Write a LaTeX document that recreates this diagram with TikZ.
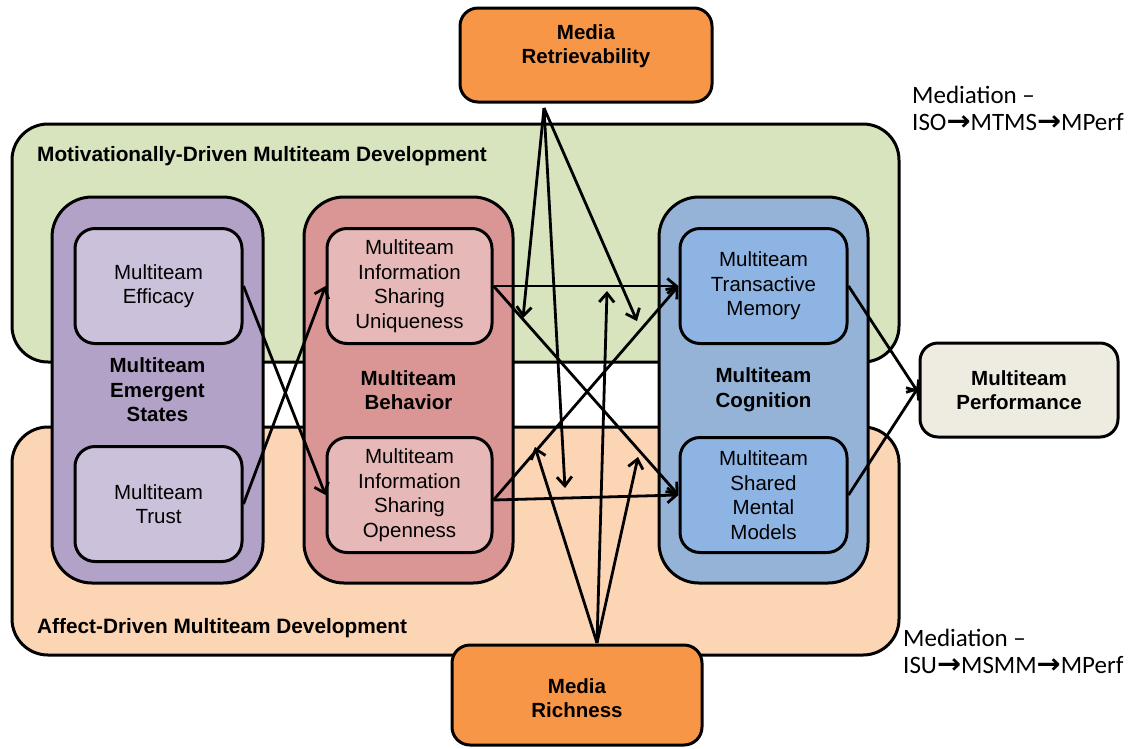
\documentclass[tikz,border=0pt]{standalone}
\usepackage{fontspec}
\usepackage{graphicx}
\setmainfont{Liberation Sans}
\newfontfamily\calib{Carlito}
\newfontfamily\djv{DejaVu Sans}
\usetikzlibrary{arrows.meta}
\definecolor{grn}{HTML}{D7E4BD}
\definecolor{pch}{HTML}{FCD5B5}
\definecolor{purO}{HTML}{B3A2C7}
\definecolor{purI}{HTML}{CCC1DA}
\definecolor{redO}{HTML}{D99694}
\definecolor{redI}{HTML}{E6B9B8}
\definecolor{bluO}{HTML}{95B3D7}
\definecolor{bluI}{HTML}{8EB4E3}
\definecolor{org}{HTML}{F79646}
\definecolor{perf}{HTML}{EEECE1}
\newcommand{\ra}{\scalebox{1.15}[1.1]{\djv\bfseries\char"2192}}
\begin{document}
\begin{tikzpicture}[x=1pt,y=-1pt,
  box/.style={draw=black,line width=3pt,inner sep=0pt,align=center,
    font=\fontsize{20.5}{24.6}\selectfont},
  region/.style={box,rounded corners=36pt},
  outerbox/.style={box,rounded corners=40pt,font=\fontsize{20.5}{24.6}\selectfont\bfseries},
  innerbox/.style={box,rounded corners=20pt,minimum width=167pt,minimum height=115pt},
  mediabox/.style={box,rounded corners=18pt,fill=org},
  mlabel/.style={inner sep=0pt,align=center,font=\fontsize{20.5}{24.6}\selectfont\bfseries},
  title/.style={anchor=west,inner sep=0pt,font=\fontsize{20.8}{24}\selectfont\bfseries},
  medtext/.style={anchor=north west,inner sep=0pt,align=left,font=\calib\fontsize{25}{27}\selectfont},
  conn/.style={line width=2.8pt,-{Straight Barb[length=9pt,width=15pt]}}]
\useasboundingbox (0,0) rectangle (1138,748);
% regions
\node[region,fill=grn,minimum width=887pt,minimum height=238pt] (green) at (455.5,243) {};
\node[region,fill=pch,minimum width=887pt,minimum height=228pt] (peach) at (455.5,541) {};
\node[title] (gtitle) at (37,156) {Motivationally-Driven Multiteam Development};
\node[title] (ptitle) at (37,628) {Affect-Driven Multiteam Development};
% outer boxes
\node[outerbox,fill=purO,minimum width=211pt,minimum height=386pt] (states) at (157.5,390) {Multiteam\\Emergent\\States};
\node[outerbox,fill=redO,minimum width=209pt,minimum height=386pt] (behav) at (408.5,390) {Multiteam\\Behavior};
\node[outerbox,fill=bluO,minimum width=209pt,minimum height=386pt] (cogn) at (763.5,390) {Multiteam\\Cognition};
% inner boxes
\node[innerbox,fill=purI] (eff) at (158.5,286) {Multiteam\\Efficacy};
\node[innerbox,fill=purI] (trust) at (158.5,504) {Multiteam\\Trust};
\node[innerbox,fill=redI,minimum width=165pt] (uniq) at (409.5,286) {Multiteam\\Information\\Sharing\\Uniqueness};
\node[innerbox,fill=redI,minimum width=165pt] (open) at (409.5,495) {Multiteam\\Information\\Sharing\\Openness};
\node[innerbox,fill=bluI] (tm) at (763.5,286) {Multiteam\\Transactive\\Memory};
\node[innerbox,fill=bluI] (smm) at (763.5,495) {Multiteam\\Shared\\Mental\\Models};
% media and performance
\node[mediabox,minimum width=252pt,minimum height=94pt] (mret) at (586,55) {};
\node[mlabel] (mretT) at (586,46) {Media\\Retrievability};
\node[mediabox,minimum width=250pt,minimum height=100pt] (mrich) at (577,695) {};
\node[mlabel] (mrichT) at (577,698) {Media\\Richness};
\node[box,fill=perf,rounded corners=18pt,minimum width=198pt,minimum height=94pt,font=\fontsize{20.5}{24.6}\selectfont\bfseries] (perf) at (1019,390) {Multiteam\\Performance};
% mediation texts
\node[medtext] (med1) at (912,86) {Mediation –\\ISO\ra MTMS\ra MPerf};
\node[medtext] (med2) at (903,629) {Mediation –\\ISU\ra MSMM\ra MPerf};
% connector points
\coordinate (mrO) at (544,108);
\coordinate (mrA) at (523,318);
\coordinate (mrB) at (565,488);
\coordinate (mrC) at (637,321);
\coordinate (mcO) at (597,643);
\coordinate (mcA) at (535,447);
\coordinate (mcB) at (607,291);
\coordinate (mcC) at (638,457);
% connectors
\draw[conn] (eff.east) -- (open.west);
\draw[conn] (trust.east) -- (uniq.west);
\draw[conn] (uniq.east) -- (tm.west);
\draw[conn] (uniq.east) -- (smm.west);
\draw[conn] ([yshift=-5pt]open.east) -- (smm.west);
\draw[conn] ([yshift=-5pt]open.east) -- (tm.west);
\draw[conn] (tm.east) -- ([yshift=-3pt]perf.west);
\draw[conn] (smm.east) -- ([yshift=3pt]perf.west);
\draw[conn] (mrO) -- (mrA);
\draw[conn] (mrO) -- (mrB);
\draw[conn] (mrO) -- (mrC);
\draw[conn] (mcO) -- (mcA);
\draw[conn] (mcO) -- (mcB);
\draw[conn] (mcO) -- (mcC);
\end{tikzpicture}
\end{document}
